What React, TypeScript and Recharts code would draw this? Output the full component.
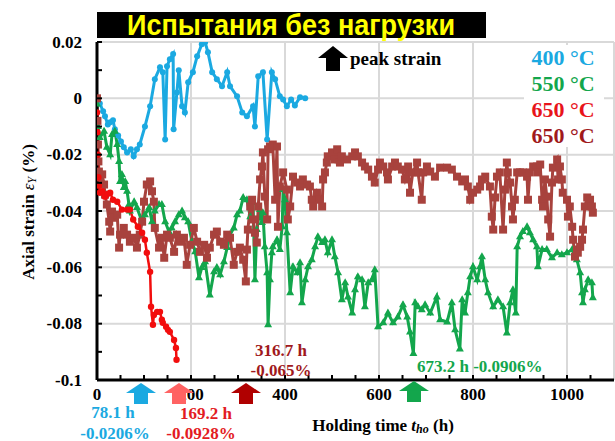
import { LineChart, Line, XAxis, YAxis, ReferenceLine } from 'recharts';

// 400 °C
const tBlue = [0, 6, 13, 17, 23, 28, 34, 38, 45, 51, 57, 64, 72, 78.1, 85, 91, 102, 113, 123, 134, 140, 145, 149, 155, 162, 163, 170, 174, 181, 187, 194, 204, 213, 223, 230, 236, 245, 255, 266, 277, 283, 298, 309, 319, 332, 336, 343, 353, 362, 372, 379, 389, 396, 404, 413, 421, 432, 443];
const eBlue = [0, -0.0018, -0.0046, -0.0064, -0.0093, -0.0085, -0.0078, -0.011, -0.0132, -0.0153, -0.0174, -0.0192, -0.0181, -0.0206, -0.0181, -0.0164, -0.01, -0.0028, 0.0068, 0.011, 0.0093, -0.0146, 0.0114, 0.0139, 0.0157, -0.011, 0.0021, 0.01, -0.0028, -0.005, 0.0057, 0.0093, 0.0149, 0.0192, 0.0199, 0.0164, 0.0093, 0.0068, 0.0043, 0.0093, 0.0043, 0.0007, -0.005, -0.0064, -0.0028, -0.01, 0.0078, 0.0093, -0.0146, 0.0093, 0.0068, 0.0007, -0.0004, -0.0028, -0.0004, -0.0025, 0.0004, 0];

// 550 °C
const tGreen = [0, 2, 6, 15, 21, 28, 32, 38, 43, 47, 49, 53, 57, 60, 64, 68, 70, 79, 85, 96, 102, 111, 117, 123, 132, 138, 145, 153, 159, 166, 174, 181, 187, 194, 202, 209, 217, 223, 230, 240, 249, 255, 262, 270, 277, 283, 291, 298, 304, 311, 319, 326, 332, 336, 340, 347, 351, 353, 357, 362, 364, 368, 372, 374, 383, 389, 394, 396, 400, 404, 411, 417, 426, 432, 436, 443, 449, 457, 464, 470, 479, 485, 491, 500, 506, 513, 521, 528, 534, 543, 549, 555, 564, 570, 577, 585, 591, 598, 609, 619, 630, 640, 651, 660, 666, 673.2, 677, 683, 691, 698, 709, 723, 730, 745, 755, 762, 772, 777, 783, 789, 794, 800, 809, 815, 819, 826, 832, 843, 853, 864, 872, 879, 885, 891, 894, 900, 906, 915, 921, 928, 936, 938, 947, 957, 968, 979, 989, 1000, 1011, 1021, 1028, 1032, 1034, 1038, 1045, 1053, 1055];
const eGreen = [-0.002, -0.01, -0.0139, -0.0117, -0.0174, -0.02, -0.0128, -0.0117, -0.0164, -0.0224, -0.0295, -0.027, -0.0317, -0.0295, -0.033, -0.0377, -0.04, -0.0367, -0.0388, -0.0438, -0.0413, -0.0388, -0.0438, -0.04, -0.0377, -0.0377, -0.0438, -0.0473, -0.046, -0.0438, -0.0413, -0.04, -0.0424, -0.0438, -0.0509, -0.0545, -0.0637, -0.0601, -0.058, -0.0698, -0.0616, -0.0601, -0.0626, -0.058, -0.053, -0.0484, -0.046, -0.0413, -0.04, -0.0352, -0.036, -0.042, -0.037, -0.0644, -0.0466, -0.0395, -0.0441, -0.0406, -0.0527, -0.0619, -0.0804, -0.0644, -0.0548, -0.0527, -0.0502, -0.0537, -0.0456, -0.0324, -0.036, -0.0477, -0.069, -0.0598, -0.0619, -0.0584, -0.0726, -0.0644, -0.0598, -0.0573, -0.0527, -0.0491, -0.0512, -0.0502, -0.0548, -0.0502, -0.0562, -0.0619, -0.0715, -0.0655, -0.0705, -0.0762, -0.068, -0.0633, -0.0644, -0.074, -0.0655, -0.0644, -0.0609, -0.0811, -0.0797, -0.0762, -0.0797, -0.0776, -0.0733, -0.0776, -0.083, -0.0906, -0.0726, -0.074, -0.0751, -0.0733, -0.0762, -0.0705, -0.0786, -0.0794, -0.0726, -0.0822, -0.089, -0.0715, -0.0762, -0.069, -0.0633, -0.0598, -0.0644, -0.0598, -0.0562, -0.0644, -0.069, -0.074, -0.0715, -0.074, -0.0833, -0.0726, -0.068, -0.0762, -0.0527, -0.0491, -0.0473, -0.0456, -0.0477, -0.0502, -0.0527, -0.0598, -0.0537, -0.0537, -0.0566, -0.0548, -0.0555, -0.0548, -0.0537, -0.0573, -0.0619, -0.069, -0.0726, -0.068, -0.0644, -0.0655, -0.0708];

// 650 °C (red)
const tRed = [0, 1, 2, 3, 4, 6, 11, 17, 22, 28, 34, 43, 53, 64, 70, 77, 87, 96, 102, 106, 113, 115, 119, 121, 128, 134, 138, 140, 147, 151, 155, 164, 168, 169.2];
const eRed = [-0.005, -0.012, -0.02, -0.028, -0.031, -0.0335, -0.033, -0.0349, -0.034, -0.0335, -0.036, -0.0367, -0.0395, -0.0395, -0.0395, -0.043, -0.0456, -0.0477, -0.0502, -0.0548, -0.0616, -0.074, -0.0804, -0.0769, -0.0758, -0.0758, -0.0786, -0.0797, -0.0811, -0.0822, -0.0829, -0.0858, -0.0886, -0.0928];

// 650 °C (dark red)
const tBrown = [0, 1, 2, 3, 4, 6, 11, 15, 17, 21, 26, 28, 32, 36, 43, 47, 49, 57, 64, 70, 79, 85, 91, 96, 100, 106, 113, 117, 121, 123, 132, 138, 143, 149, 155, 164, 170, 177, 185, 191, 198, 206, 213, 219, 228, 234, 240, 249, 255, 262, 270, 277, 283, 291, 298, 304, 311, 316.7, 319, 321, 326, 330, 332, 336, 340, 343, 347, 351, 353, 357, 362, 364, 368, 374, 379, 383, 385, 389, 396, 404, 406, 411, 417, 426, 432, 438, 447, 453, 457, 460, 468, 474, 479, 481, 485, 489, 491, 500, 506, 511, 517, 521, 532, 543, 549, 555, 564, 570, 577, 585, 591, 598, 602, 609, 617, 619, 628, 634, 640, 649, 655, 662, 666, 672, 681, 683, 691, 694, 702, 709, 719, 730, 745, 755, 766, 777, 783, 789, 794, 800, 809, 815, 819, 826, 836, 840, 843, 847, 851, 857, 864, 868, 872, 874, 879, 883, 885, 889, 894, 900, 906, 915, 917, 921, 928, 936, 938, 943, 947, 949, 953, 957, 960, 964, 968, 970, 979, 981, 985, 989, 991, 1000, 1002, 1006, 1011, 1013, 1017, 1021, 1023, 1028, 1032, 1034, 1038, 1043, 1049, 1053, 1055];
const eBrown = [0, -0.008, -0.0164, -0.0224, -0.026, -0.0281, -0.027, -0.0306, -0.0342, -0.0377, -0.0438, -0.0473, -0.0402, -0.0424, -0.0413, -0.053, -0.0484, -0.046, -0.0484, -0.0509, -0.0495, -0.053, -0.0484, -0.0438, -0.0367, -0.0306, -0.0295, -0.033, -0.0367, -0.046, -0.053, -0.0495, -0.0566, -0.0484, -0.0495, -0.0545, -0.0484, -0.0509, -0.0495, -0.0591, -0.052, -0.046, -0.0509, -0.0545, -0.052, -0.0566, -0.053, -0.0484, -0.0473, -0.0509, -0.052, -0.0484, -0.0495, -0.0591, -0.0545, -0.053, -0.0573, -0.065, -0.0537, -0.0466, -0.0384, -0.036, -0.043, -0.0477, -0.0512, -0.0384, -0.0288, -0.0242, -0.0192, -0.0349, -0.043, -0.0181, -0.0171, -0.0164, -0.036, -0.0171, -0.0456, -0.0313, -0.0263, -0.0324, -0.043, -0.0384, -0.0278, -0.0299, -0.0313, -0.0288, -0.0306, -0.0313, -0.036, -0.0384, -0.0335, -0.036, -0.0384, -0.0288, -0.0263, -0.0228, -0.0206, -0.0192, -0.0217, -0.0181, -0.0228, -0.0206, -0.0217, -0.0206, -0.0192, -0.0206, -0.0228, -0.0242, -0.0253, -0.0278, -0.0299, -0.0253, -0.0228, -0.0242, -0.0263, -0.0288, -0.0242, -0.0228, -0.0242, -0.0253, -0.0288, -0.0242, -0.0335, -0.0263, -0.0228, -0.0263, -0.036, -0.0263, -0.0242, -0.026, -0.0278, -0.0246, -0.0246, -0.0253, -0.0278, -0.0295, -0.0288, -0.0313, -0.036, -0.0335, -0.0324, -0.0313, -0.0288, -0.0278, -0.0313, -0.042, -0.0466, -0.0352, -0.0278, -0.0263, -0.0466, -0.0324, -0.0228, -0.0263, -0.0299, -0.0384, -0.043, -0.036, -0.0263, -0.0263, -0.0263, -0.0278, -0.036, -0.0263, -0.0242, -0.0242, -0.0263, -0.0235, -0.036, -0.0384, -0.0288, -0.0349, -0.043, -0.0491, -0.0299, -0.0246, -0.0217, -0.0288, -0.0242, -0.0288, -0.0335, -0.036, -0.042, -0.0384, -0.0456, -0.0502, -0.0562, -0.0537, -0.0548, -0.0527, -0.0502, -0.0466, -0.0384, -0.0352, -0.036, -0.0384, -0.0406];

const xTicks = [0, 50, 100, 150, 200, 250, 300, 350, 400, 450, 500, 550, 600, 650, 700, 750, 800, 850, 900, 950, 1000, 1050];
const xLabels = [0, 200, 400, 600, 800, 1000];
const yTicks = [-0.1, -0.09, -0.08, -0.07, -0.06, -0.05, -0.04, -0.03, -0.02, -0.01, 0, 0.01, 0.02];
const yLabels = [-0.1, -0.08, -0.06, -0.04, -0.02, 0, 0.02];
const xGrid = [200, 400, 600, 800, 1000, 1100];
const yGrid = [0.02, 0, -0.02, -0.04, -0.06, -0.08];

const BLUE = '#1BA9E1';
const GREEN = '#13A64C';
const RED = '#F20D0D';
const BROWN = '#A8423D';
const DARK = '#A0191C';

const serif = '"Liberation Serif", "Times New Roman", serif';

const toRows = (ts: number[], es: number[]) => ts.map((t, i) => ({ t, v: es[i] }));

const XTick = (props: any) => {
  const { x, y, payload } = props;
  const show = xLabels.includes(payload.value);
  return (
    <g>
      <line x1={x} x2={x} y1={y} y2={y - 5} stroke="#000" strokeWidth={2} />
      {show && (
        <text x={x} y={y + 14} textAnchor="middle" dominantBaseline="central" fontFamily={serif} fontWeight="bold" fontSize={17} fill="#000">
          {payload.value}
        </text>
      )}
    </g>
  );
};

const YTick = (props: any) => {
  const { x, y, payload } = props;
  const show = yLabels.some((l) => Math.abs(l - payload.value) < 1e-9);
  return (
    <g>
      <line x1={x} x2={x + 5} y1={y} y2={y} stroke="#000" strokeWidth={2} />
      {show && (
        <text x={x - 15} y={y} textAnchor="end" dominantBaseline="central" fontFamily={serif} fontWeight="bold" fontSize={17} fill="#000">
          {Math.abs(payload.value) < 1e-9 ? '0' : String(payload.value)}
        </text>
      )}
    </g>
  );
};

const triangle = (props: any) => {
  const { cx, cy, index } = props;
  if (cx == null || cy == null) return <g key={index} />;
  return <polygon key={index} points={`${cx},${cy - 4.5} ${cx - 4},${cy + 2.5} ${cx + 4},${cy + 2.5}`} fill={GREEN} />;
};

const square = (props: any) => {
  const { cx, cy, index } = props;
  if (cx == null || cy == null) return <g key={index} />;
  return <rect key={index} x={cx - 4} y={cy - 4} width={8} height={8} fill={BROWN} />;
};

const Arrow = ({ cx, top, color, w = 30, head = 10, shaft = 14, len = 21 }: any) => (
  <g fill={color}>
    <polygon points={`${cx},${top} ${cx - w / 2},${top + head} ${cx + w / 2},${top + head}`} />
    <rect x={cx - shaft / 2} y={top + head - 0.5} width={shaft} height={len - head + 0.5} />
  </g>
);

const t = (x: number, y: number, s: string, color: string, anchor: any = 'middle', size = 17) => (
  <text x={x} y={y} textAnchor={anchor} dominantBaseline="central" fontFamily={serif} fontWeight="bold" fontSize={size} fill={color}>
    {s}
  </text>
);

const App = () => {
  return (
    <div style={{ position: 'absolute', left: 0, top: 0, width: 615, height: 441, background: '#fff' }}>
      <LineChart width={615} height={441} margin={{ top: 42, right: 1, left: 0, bottom: 31 }}>
        {yGrid.map((v) => (
          <ReferenceLine key={'y' + v} y={v} stroke="#D9D9D9" strokeWidth={2} ifOverflow="extendDomain" />
        ))}
        {xGrid.map((v) => (
          <ReferenceLine key={'x' + v} x={v} stroke="#D9D9D9" strokeWidth={2} />
        ))}
        <XAxis
          dataKey="t"
          type="number"
          domain={[0, 1100]}
          ticks={xTicks}
          allowDataOverflow
          height={30}
          tickSize={0}
          tickMargin={0}
          tickLine={false}
          tick={<XTick />}
          interval={0}
          axisLine={{ stroke: '#000', strokeWidth: 3 }}
        />
        <YAxis
          dataKey="v"
          type="number"
          domain={[-0.1, 0.02]}
          ticks={yTicks}
          allowDataOverflow
          width={97}
          tickSize={0}
          tickMargin={0}
          tickLine={false}
          tick={<YTick />}
          interval={0}
          axisLine={{ stroke: '#000', strokeWidth: 3 }}
        />
        <Line data={toRows(tBlue, eBlue)} dataKey="v" type="linear" stroke={BLUE} strokeWidth={3} dot={{ r: 3, fill: BLUE, stroke: 'none' }} activeDot={false} isAnimationActive={false} />
        <Line data={toRows(tGreen, eGreen)} dataKey="v" type="linear" stroke={GREEN} strokeWidth={3} dot={triangle} activeDot={false} isAnimationActive={false} />
        <Line data={toRows(tBrown, eBrown)} dataKey="v" type="linear" stroke={BROWN} strokeWidth={3} dot={square} activeDot={false} isAnimationActive={false} />
        <Line data={toRows(tRed, eRed)} dataKey="v" type="linear" stroke={RED} strokeWidth={2.5} dot={{ r: 3.2, fill: RED, stroke: 'none' }} activeDot={false} isAnimationActive={false} />
      </LineChart>

      <svg width={615} height={441} style={{ position: 'absolute', left: 0, top: 0, pointerEvents: 'none' }}>
        {/* title */}
        <rect x={97} y={12} width={389} height={26} fill="#000" />
        <text x={291} y={25} textAnchor="middle" dominantBaseline="central" fontFamily='"Liberation Sans", Arial, sans-serif' fontWeight="bold" fontSize={29} textLength={328} lengthAdjust="spacingAndGlyphs" fill="#FFFF00">
          Испытания без нагрузки
        </text>

        {/* legend */}
        <rect x={524} y={45} width={80} height={102} fill="#fff" />
        {t(563, 57, '400 °C', BLUE, 'middle', 22)}
        {t(563, 83, '550 °C', GREEN, 'middle', 22)}
        {t(563, 109, '650 °C', '#E8141B', 'middle', 22)}
        {t(563, 135, '650 °C', DARK, 'middle', 22)}

        {/* peak strain key */}
        <Arrow cx={333} top={46} color="#000" w={30} head={12} shaft={14} len={25} />
        {t(350, 58, 'peak strain', '#000', 'start', 19)}

        {/* peak arrows and values */}
        <Arrow cx={141} top={383} color={BLUE} />
        <Arrow cx={179} top={383} color="#FF6363" />
        <Arrow cx={246} top={383} color="#B00000" />
        <Arrow cx={414} top={381} color={GREEN} />
        {t(113, 412, '78.1 h', BLUE)}
        {t(115, 433, '-0.0206%', BLUE)}
        {t(206, 413, '169.2 h', '#E31B23')}
        {t(201, 433, '-0.0928%', '#E31B23')}
        {t(281, 350, '316.7 h', DARK)}
        {t(281, 370, '-0.065%', DARK)}
        {t(417, 366, '673.2 h  -0.0906%', GREEN, 'start')}

        {/* axis titles */}
        <text x={383} y={425} textAnchor="middle" dominantBaseline="central" fontFamily={serif} fontWeight="bold" fontSize={17} fill="#000">
          Holding time <tspan fontStyle="italic">t</tspan>
          <tspan fontStyle="italic" fontSize={12} dy={4}>ho</tspan>
          <tspan dy={-4}> (h)</tspan>
        </text>
        <text transform="translate(28,212) rotate(-90)" textAnchor="middle" dominantBaseline="central" fontFamily={serif} fontWeight="bold" fontSize={17} fill="#000">
          Axial strain <tspan fontStyle="italic" fontWeight="normal">ε</tspan>
          <tspan fontStyle="italic" fontWeight="normal" fontSize={12} dy={4}>Y</tspan>
          <tspan dy={-4}> (%)</tspan>
        </text>
      </svg>
    </div>
  );
};

export default App;
